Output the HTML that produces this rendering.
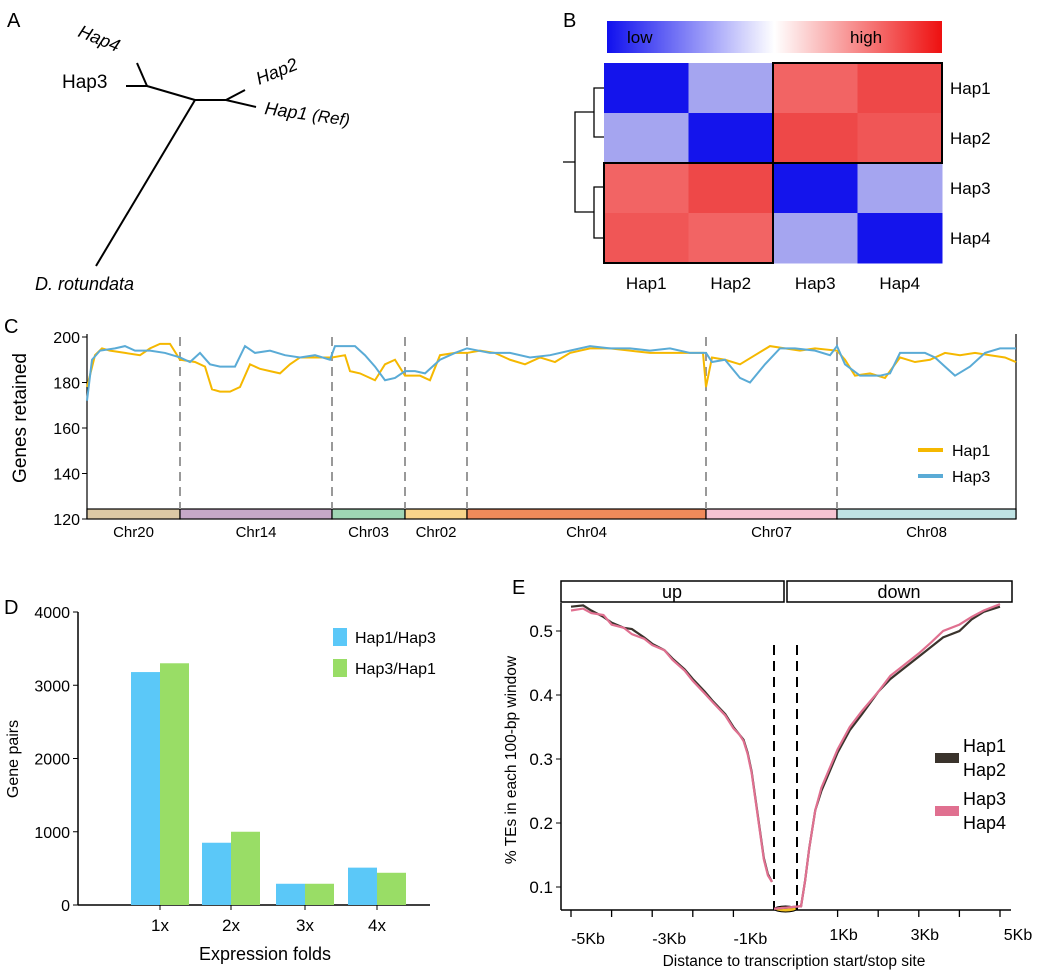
<!DOCTYPE html>
<html><head><meta charset="utf-8"><style>
body{margin:0;background:#fff;}
svg{display:block;font-family:"Liberation Sans",Arial,sans-serif;}
</style></head><body>
<svg id="fig" width="1039" height="976" viewBox="0 0 1039 976" xmlns="http://www.w3.org/2000/svg">
<defs>
<linearGradient id="cbar" x1="0" x2="1" y1="0" y2="0">
<stop offset="0" stop-color="#1010ee"/><stop offset="0.5" stop-color="#ffffff"/><stop offset="1" stop-color="#ee1010"/>
</linearGradient>
</defs>
<!-- Panel A -->
<g>
<text x="7" y="27" font-size="20">A</text>
<g stroke="#000" stroke-width="2" fill="none">
<line x1="147" y1="86" x2="195" y2="100"/>
<line x1="147" y1="86" x2="137" y2="63"/>
<line x1="147" y1="86" x2="126" y2="86"/>
<line x1="195" y1="100" x2="226" y2="100"/>
<line x1="226" y1="100" x2="245" y2="90"/>
<line x1="226" y1="100" x2="256" y2="107"/>
<line x1="195" y1="100" x2="96" y2="266"/>
</g>
<text x="0" y="0" font-size="18" font-style="italic" transform="translate(77,36) rotate(22)">Hap4</text>
<text x="62" y="88" font-size="19">Hap3</text>
<text x="0" y="0" font-size="18" font-style="italic" transform="translate(259,85) rotate(-22)">Hap2</text>
<text x="0" y="0" font-size="18" font-style="italic" transform="translate(264,114) rotate(8)">Hap1 <tspan font-size="17">(Ref)</tspan></text>
<text x="35" y="290" font-size="18" font-style="italic">D. rotundata</text>
</g>
<!-- Panel B -->
<g>
<text x="563" y="27" font-size="20">B</text>
<rect x="607" y="21" width="335" height="32" fill="url(#cbar)"/>
<text x="627" y="43" font-size="17">low</text>
<text x="850" y="43" font-size="17">high</text>
<g id="hm"></g>
<g stroke="#000" stroke-width="1.3" fill="none">
<path d="M604 88 H594 V137 H604 M604 187 H594 V238 H604 M594 112 H575 V212 H594 M575 162 H563"/>
</g>
</g>
<!-- Panel C -->
<g>
<text x="4" y="333" font-size="20">C</text>
<g id="cg"></g>
</g>
<!-- Panel D -->
<g>
<text x="4" y="614" font-size="20">D</text>
<g id="dg"></g>
</g>
<!-- Panel E -->
<g>
<text x="512" y="594" font-size="20">E</text>
<g id="eg"></g>
</g>
</svg>
<script>
const NS="http://www.w3.org/2000/svg";
function mk(parent,tag,attrs,text){const e=document.createElementNS(NS,tag);for(const k in attrs)e.setAttribute(k,attrs[k]);if(text!==undefined)e.textContent=text;parent.appendChild(e);return e;}

/* ---------- Panel B heatmap data ---------- */
const hmRows=["Hap1","Hap2","Hap3","Hap4"];
const hmCols=["Hap1","Hap2","Hap3","Hap4"];
const hmVals=[[0.0,0.3,0.82,0.9],[0.3,0.0,0.88,0.86],[0.8,0.9,0.0,0.3],[0.85,0.83,0.3,0.0]];
(function(){
const g=document.getElementById('hm');
const x0=604,y0=63,cw=84.5,ch=50;
function col2(v){ if(v<0.5){ return v<0.1?'#1414ec':'#a5a5f0';} return v>0.87?'#ee4848':(v>0.84?'#f05656':'#f26464');}
hmVals.forEach((row,i)=>row.forEach((v,j)=>{
 const r=mk(g,'rect',{x:x0+j*cw,y:y0+i*ch,width:cw+0.5,height:ch+0.5,fill:col2(v)});
 
 
}));
const b1=mk(g,'rect',{x:x0+2*cw,y:y0,width:2*cw,height:2*ch,fill:'none',stroke:'#000','stroke-width':2});


const b2=mk(g,'rect',{x:x0,y:y0+2*ch,width:2*cw,height:2*ch,fill:'none',stroke:'#000','stroke-width':2});


hmRows.forEach((n,i)=>{const t=mk(g,'text',{x:950,y:y0+i*ch+31,'font-size':17},n);
 
 });
hmCols.forEach((n,j)=>{const t=mk(g,'text',{x:x0+j*cw+cw/2,y:289,'font-size':17,'text-anchor':'middle'},n);
 
 });
})();

/* ---------- Panel C data ---------- */
const cTicks=[120,140,160,180,200];
const chrNames=["Chr20","Chr14","Chr03","Chr02","Chr04","Chr07","Chr08"];
const chrStarts=[0,93,245,318,380,619,750];
const chrEnds=[93,245,318,380,619,750,929];
const chrColors=["#dcc9a5","#c6a8c8","#9fd6b4","#f8d48a","#f08a5a","#f5c4d2","#bfe3e4"];
const hap1Pos=[0,8,15,23,38,53,63,73,83,93,108,118,125,133,143,153,163,173,183,193,203,213,228,245,258,263,273,288,298,308,318,333,343,353,368,380,393,408,423,438,453,468,483,503,523,543,563,583,603,616,619,625,638,653,668,683,698,713,728,750,758,768,783,798,813,828,843,858,873,888,903,918,929];
const hap1Val=[178,192,195,194,193,192,195,197,197,190,189,187,177,176,176,178,188,186,185,184,188,191,191,191,192,185,184,181,188,190,183,183,181,192,193,193,194,193,190,188,191,189,193,195,195,194,193,193,193,193,178,191,190,188,192,196,195,194,195,194,190,183,184,182,191,189,190,193,192,193,192,191,189];
const hap3Pos=[0,5,13,28,38,48,63,78,93,103,113,123,133,148,158,168,183,198,213,228,243,248,268,278,288,298,308,318,328,338,353,368,380,403,423,443,463,483,503,523,543,563,583,603,619,625,638,653,663,678,693,708,728,743,750,758,773,793,803,813,838,848,858,868,883,898,913,929];
const hap3Val=[172,190,194,195,196,194,194,193,191,189,193,188,187,187,196,193,194,192,191,192,190,196,196,192,187,181,182,185,185,184,190,193,195,193,193,191,192,194,196,195,195,194,195,193,193,189,190,182,180,188,195,195,194,192,196,188,183,183,184,193,193,191,187,183,187,193,195,195];
(function(){
const g=document.getElementById('cg');
const X0=87,X1=1016,Y0=519,Y1=337;
const sx=v=>X0+(v/929)*(X1-X0);
const sy=v=>Y0-(v-120)/80*(Y0-Y1);
let a=mk(g,'line',{x1:X0,y1:Y1-3,x2:X0,y2:Y0,stroke:'#000','stroke-width':1.2});

a=mk(g,'line',{x1:X1,y1:Y1-3,x2:X1,y2:Y0,stroke:'#000','stroke-width':1.2});

cTicks.forEach(t=>{mk(g,'line',{x1:X0-5,x2:X0,y1:sy(t),y2:sy(t),stroke:'#000'});
 const tx=mk(g,'text',{x:X0-7,y:sy(t)+6,'font-size':16,'text-anchor':'end'},t);
 });
const yl=mk(g,'text',{x:0,y:0,'font-size':19,'text-anchor':'middle',transform:`translate(26,${(Y0+Y1)/2-10}) rotate(-90)`},'Genes retained');

chrNames.forEach((n,i)=>{
 const r=mk(g,'rect',{x:sx(chrStarts[i]),y:509,width:sx(chrEnds[i])-sx(chrStarts[i]),height:10,fill:chrColors[i],stroke:'#000','stroke-width':1.2});
 
 const t=mk(g,'text',{x:(sx(chrStarts[i])+sx(chrEnds[i]))/2,y:537,'font-size':15,'text-anchor':'middle'},n);
 
 if(i>0){const d=mk(g,'line',{x1:sx(chrStarts[i]),x2:sx(chrStarts[i]),y1:Y1,y2:509,stroke:'#999','stroke-width':2,'stroke-dasharray':'9,6'});
 }
});
function line(pos,val,color,name){const p=mk(g,'polyline',{points:pos.map((x,i)=>sx(x)+','+sy(val[i])).join(' '),fill:'none',stroke:color,'stroke-width':2});
 }
line(hap1Pos,hap1Val,'#f5b800','hap1-line');
line(hap3Pos,hap3Val,'#5aabd6','hap3-line');
[['Hap1','#f5b800',450],['Hap3','#5aabd6',476]].forEach(([n,c,y])=>{
 const l=mk(g,'line',{x1:918,x2:943,y1:y,y2:y,stroke:c,'stroke-width':4});
 
 const t=mk(g,'text',{x:952,y:y+6,'font-size':16},n);
 });
})();

/* ---------- Panel D data ---------- */
const dCats=["1x","2x","3x","4x"];
const dHap13=[3180,850,290,510];
const dHap31=[3300,1000,290,440];
const dTicks=[0,1000,2000,3000,4000];
(function(){
const g=document.getElementById('dg');
const X0=78,Y0=905,k=293/4000;
const sy=v=>Y0-v*k;
const cx=[160,231,305,377];
let a=mk(g,'line',{x1:X0,y1:sy(4000),x2:X0,y2:Y0,stroke:'#000','stroke-width':1.5});

a=mk(g,'line',{x1:X0,y1:Y0,x2:430,y2:Y0,stroke:'#000','stroke-width':1.5});

dTicks.forEach(t=>{mk(g,'line',{x1:X0-5,x2:X0,y1:sy(t),y2:sy(t),stroke:'#000'});
 const tx=mk(g,'text',{x:X0-8,y:sy(t)+6,'font-size':16,'text-anchor':'end'},t);
 });
dCats.forEach((c,i)=>{
 const b1=mk(g,'rect',{x:cx[i]-29,y:sy(dHap13[i]),width:29,height:dHap13[i]*k,fill:'#5bc8f8'});
 
 const b2=mk(g,'rect',{x:cx[i],y:sy(dHap31[i]),width:29,height:dHap31[i]*k,fill:'#99dd66'});
 
 mk(g,'line',{x1:cx[i],x2:cx[i],y1:Y0,y2:Y0+5,stroke:'#000'});
 const t=mk(g,'text',{x:cx[i],y:931,'font-size':17,'text-anchor':'middle'},c);
 });
let t=mk(g,'text',{x:265,y:960,'font-size':18,'text-anchor':'middle'},'Expression folds');

t=mk(g,'text',{x:0,y:0,'font-size':16,'text-anchor':'middle',transform:'translate(18,759) rotate(-90)'},'Gene pairs');

[['Hap1/Hap3','#5bc8f8',637],['Hap3/Hap1','#99dd66',668]].forEach(([n,c,y])=>{
 const r=mk(g,'rect',{x:333,y:y-9,width:14,height:18,fill:c});
 
 const l=mk(g,'text',{x:355,y:y+6,'font-size':16},n);
 });
})();

/* ---------- Panel E data ---------- */
const upKb=[-5,-4.7,-4.5,-4.2,-4,-3.7,-3.5,-3.2,-3,-2.7,-2.5,-2.2,-2,-1.7,-1.5,-1.2,-1,-0.85,-0.75,-0.65,-0.55,-0.45,-0.35,-0.25,-0.15,-0.05];
const upHap12=[0.538,0.54,0.532,0.522,0.513,0.505,0.503,0.49,0.48,0.47,0.457,0.44,0.425,0.405,0.39,0.37,0.35,0.338,0.33,0.31,0.28,0.235,0.19,0.145,0.12,0.108];
const upHap34=[0.532,0.535,0.528,0.525,0.51,0.505,0.495,0.488,0.478,0.47,0.455,0.438,0.422,0.402,0.388,0.368,0.348,0.338,0.328,0.308,0.278,0.233,0.188,0.143,0.118,0.108];
const dnKb=[0,0.1,0.2,0.3,0.45,0.6,0.8,1,1.3,1.6,2,2.3,2.6,3,3.3,3.6,4,4.3,4.6,5];
const dnHap12=[0.066,0.07,0.11,0.16,0.22,0.25,0.28,0.31,0.345,0.37,0.405,0.425,0.44,0.46,0.475,0.49,0.5,0.518,0.53,0.538];
const dnHap34=[0.066,0.07,0.11,0.16,0.22,0.255,0.285,0.315,0.35,0.375,0.405,0.43,0.445,0.465,0.482,0.5,0.51,0.522,0.532,0.542];
const eTicks=[0.1,0.2,0.3,0.4,0.5];
const eXLabels=["-5Kb","-3Kb","-1Kb","1Kb","3Kb","5Kb"];
const eXLabelKb=[-5,-3,-1,1,3,5];
(function(){
const g=document.getElementById('eg');
const X0=561,Y0=910;
const sy=v=>887-(v-0.1)*640;
const sx=kb=>kb<=0?774+kb*40.6:797+kb*40.6;
let r=mk(g,'rect',{x:561,y:581,width:223,height:21,fill:'#fff',stroke:'#000','stroke-width':1.5});

r=mk(g,'rect',{x:787,y:581,width:225,height:21,fill:'#fff',stroke:'#000','stroke-width':1.5});

let t=mk(g,'text',{x:672,y:598,'font-size':18,'text-anchor':'middle'},'up');

t=mk(g,'text',{x:899,y:598,'font-size':18,'text-anchor':'middle'},'down');

let a=mk(g,'line',{x1:X0,y1:603,x2:X0,y2:Y0,stroke:'#000','stroke-width':1.5});

a=mk(g,'line',{x1:X0,y1:Y0,x2:1011,y2:Y0,stroke:'#000','stroke-width':1.5});

eTicks.forEach(v=>{mk(g,'line',{x1:X0-5,x2:X0,y1:sy(v),y2:sy(v),stroke:'#000'});
 const tx=mk(g,'text',{x:X0-8,y:sy(v)+6,'font-size':17,'text-anchor':'end'},v);
 });
[-5,-4,-3,-2,-1,1,2,3,4,5].forEach(kb=>mk(g,'line',{x1:sx(kb),x2:sx(kb),y1:Y0,y2:Y0+7,stroke:'#000','stroke-width':1.3}));
eXLabels.forEach((l,i)=>{const kb=eXLabelKb[i];const x=kb<0?sx(kb)+17:sx(kb)+6+(kb===5?12:0);
 const tx=mk(g,'text',{x:x,y:kb<0?944:940,'font-size':16,'text-anchor':'middle'},l);
 });
t=mk(g,'text',{x:794,y:966,'font-size':15.5,'text-anchor':'middle'},'Distance to transcription start/stop site');

t=mk(g,'text',{x:0,y:0,'font-size':15.5,'text-anchor':'middle',transform:'translate(516,760) rotate(-90)'},'% TEs in each 100-bp window');

[774,797].forEach(x=>{const d=mk(g,'line',{x1:x,x2:x,y1:645,y2:910,stroke:'#000','stroke-width':2,'stroke-dasharray':'10,6'});
 });
const el=mk(g,'ellipse',{cx:785.5,cy:909,rx:11,ry:3,fill:'#f0c020',stroke:'#000','stroke-width':1});

function pl(xs,ys,c,n){const p=mk(g,'polyline',{points:xs.map((k,i)=>sx(k)+','+sy(ys[i])).join(' '),fill:'none',stroke:c,'stroke-width':2.2});
 }
pl(upKb,upHap12,'#3a332c','hap1-hap2-upstream-line');
pl(dnKb,dnHap12,'#3a332c','hap1-hap2-downstream-line');
pl(upKb,upHap34,'#e07090','hap3-hap4-upstream-line');
pl(dnKb,dnHap34,'#e07090','hap3-hap4-downstream-line');
r=mk(g,'rect',{x:935,y:753,width:24,height:10,fill:'#3a332c'});

r=mk(g,'rect',{x:935,y:806,width:24,height:10,fill:'#e07090'});

[['Hap1',752],['Hap2',776],['Hap3',805],['Hap4',829]].forEach(([n,y])=>{
 const tx=mk(g,'text',{x:963,y:y,'font-size':18},n);
 });
})();
</script>
</body></html>
